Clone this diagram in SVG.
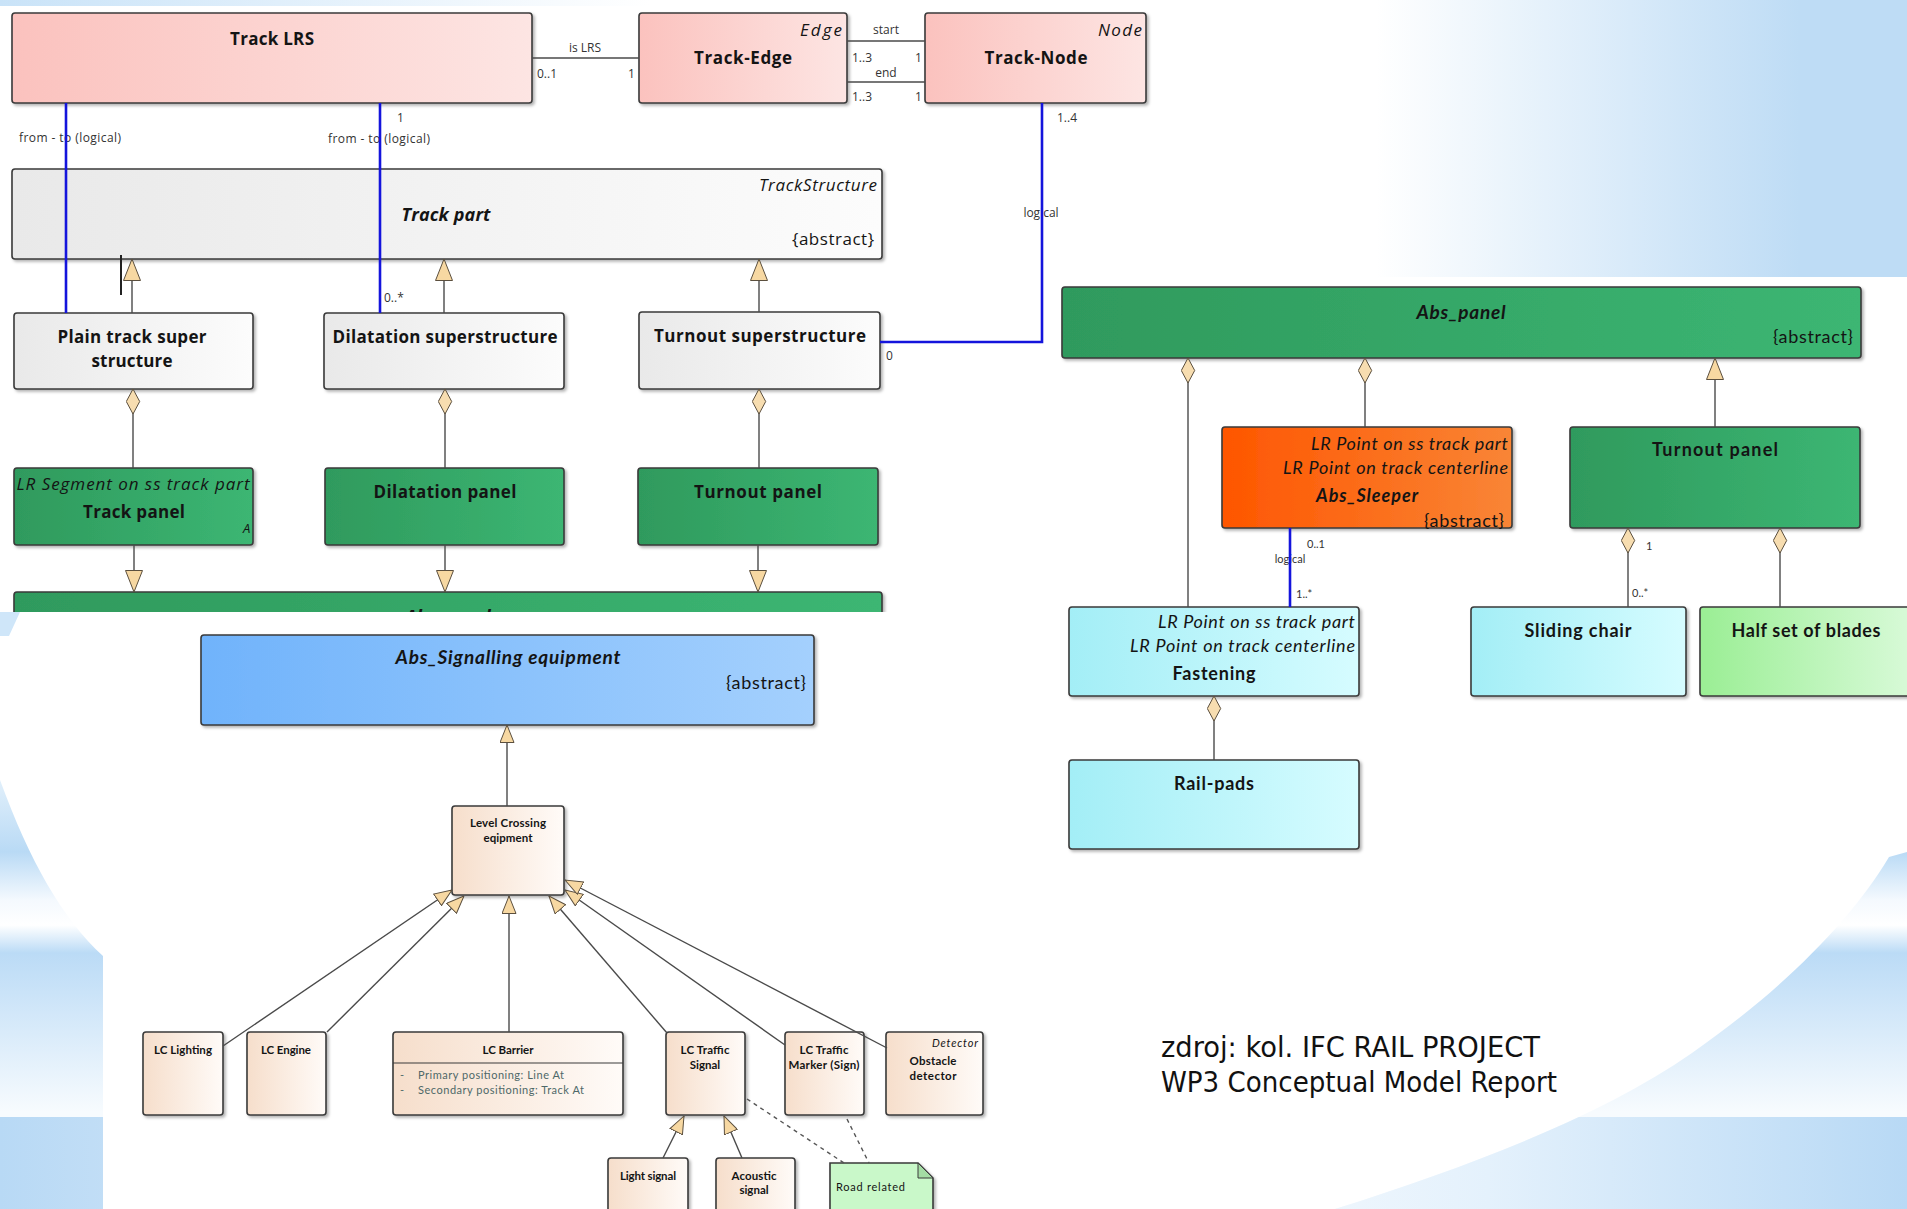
<svg xmlns="http://www.w3.org/2000/svg" width="1907" height="1209" viewBox="0 0 1907 1209">
<defs>
<style>
.box{stroke:#3a3a3a;stroke-width:1.6;filter:url(#sh)}
.ln{stroke:#4a4a4a;stroke-width:1.4;fill:none}
.blue{stroke:#1414dc;stroke-width:2.6;fill:none}
.dash{stroke:#555;stroke-width:1.4;fill:none;stroke-dasharray:4 4}
.o{font-family:'Open Sans','Liberation Sans',sans-serif;fill:#141414}
.l{font-family:Lato,'Liberation Sans',sans-serif;fill:#141414}
.b{font-weight:700}
.i{font-style:italic}
.m{text-anchor:middle}
.e{text-anchor:end}
.s12{font-size:12px;fill:#333}
.s11{font-size:11px;fill:#333}
.t17{font-size:17px}
.t18{font-size:18px}
.t19{font-size:19px}
.tl{font-size:11.5px}
.attr{font-size:11px;fill:#4e6868}
.src{font-family:'DejaVu Sans Condensed','DejaVu Sans','Liberation Sans',sans-serif;font-stretch:condensed;font-size:28px;fill:#111}
</style>
<filter id="sh" x="-5%" y="-5%" width="112%" height="120%">
<feDropShadow dx="2" dy="2" stdDeviation="1.5" flood-color="#000" flood-opacity="0.3"/>
</filter>
<linearGradient id="gPink" x1="0" y1="0" x2="1" y2="0"><stop offset="0" stop-color="#fbc2be"/><stop offset="1" stop-color="#fde5e3"/></linearGradient>
<linearGradient id="gGrey" x1="0" y1="0" x2="1" y2="0"><stop offset="0" stop-color="#e9e9e9"/><stop offset="1" stop-color="#fcfcfc"/></linearGradient>
<linearGradient id="gGreen" x1="0" y1="0" x2="1" y2="0"><stop offset="0" stop-color="#2f9a5d"/><stop offset="1" stop-color="#3cb673"/></linearGradient>
<linearGradient id="gOrange" x1="0" y1="0" x2="1" y2="0"><stop offset="0" stop-color="#fe5600"/><stop offset="1" stop-color="#f98536"/></linearGradient>
<linearGradient id="gCyan" x1="0" y1="0" x2="1" y2="0"><stop offset="0" stop-color="#a3eef6"/><stop offset="1" stop-color="#d6fcff"/></linearGradient>
<linearGradient id="gLGreen" x1="0" y1="0" x2="1" y2="0"><stop offset="0" stop-color="#9aee94"/><stop offset="1" stop-color="#dcfbdc"/></linearGradient>
<linearGradient id="gBlue" x1="0" y1="0" x2="1" y2="0"><stop offset="0" stop-color="#70b3fb"/><stop offset="1" stop-color="#a4d0fd"/></linearGradient>
<linearGradient id="gBeige" x1="0" y1="0" x2="1" y2="0"><stop offset="0" stop-color="#f6decb"/><stop offset="1" stop-color="#fffbf8"/></linearGradient>
<linearGradient id="bgTop" gradientUnits="userSpaceOnUse" x1="0" y1="0" x2="650" y2="0"><stop offset="0" stop-color="#c9e3f8"/><stop offset="1" stop-color="#ffffff"/></linearGradient>
<linearGradient id="bgTR" gradientUnits="userSpaceOnUse" x1="1376" y1="0" x2="1800" y2="0"><stop offset="0" stop-color="#ffffff"/><stop offset="1" stop-color="#bedcf5"/></linearGradient>
<linearGradient id="bgV" gradientUnits="userSpaceOnUse" x1="0" y1="612" x2="0" y2="1117">
<stop offset="0" stop-color="#ffffff"/>
<stop offset="0.33" stop-color="#e2f0fb"/>
<stop offset="0.475" stop-color="#b9daf5"/>
<stop offset="0.57" stop-color="#f4f9fe"/>
<stop offset="0.62" stop-color="#ffffff"/>
<stop offset="0.675" stop-color="#bbdbf6"/>
<stop offset="0.99" stop-color="#f7fbfe"/>
<stop offset="1" stop-color="#f7fbfe"/>
</linearGradient>
<linearGradient id="bgB" gradientUnits="userSpaceOnUse" x1="0" y1="0" x2="1907" y2="0">
<stop offset="0" stop-color="#b8d9f5"/><stop offset="0.06" stop-color="#c2def6"/><stop offset="0.55" stop-color="#ffffff"/><stop offset="0.78" stop-color="#e4f1fc"/><stop offset="1" stop-color="#b8d9f5"/>
</linearGradient>
<clipPath id="clipBar"><rect x="0" y="580" width="900" height="32"/></clipPath>
<clipPath id="clipLow"><rect x="0" y="1117" width="1907" height="92"/></clipPath>
<marker id="genL" markerUnits="userSpaceOnUse" viewBox="0 0 22 18" markerWidth="22" markerHeight="18" refX="22" refY="9" orient="auto">
<path d="M22,9 L0.5,0.5 L0.5,17.5 Z" fill="#f7d8a2" stroke="#5b4f3e" stroke-width="1"/>
</marker>
<marker id="genS" markerUnits="userSpaceOnUse" viewBox="0 0 18 15" markerWidth="18" markerHeight="15" refX="18" refY="7.5" orient="auto">
<path d="M18,7.5 L0.5,0.5 L0.5,14.5 Z" fill="#f7d8a2" stroke="#5b4f3e" stroke-width="1"/>
</marker>
<marker id="dia" markerUnits="userSpaceOnUse" viewBox="0 0 26 15" markerWidth="26" markerHeight="15" refX="0.5" refY="7.5" orient="auto">
<path d="M0.5,7.5 L13,0.8 L25.5,7.5 L13,14.2 Z" fill="#f7ddb0" stroke="#5b4f3e" stroke-width="1"/>
</marker>
</defs>

<!-- background -->
<g id="background">
<rect x="0" y="0" width="1907" height="1209" fill="#ffffff"/>
<rect x="0" y="0" width="700" height="6" fill="url(#bgTop)"/>
<rect x="1147" y="0" width="760" height="277" fill="url(#bgTR)"/>
<polygon points="0,612 20,612 9,636 0,636" fill="#cfe6f9"/>
<path d="M0,780 C30,862 62,918 103,956 L103,1209 L0,1209 Z" fill="url(#bgV)"/>
<path d="M1907,852 L1889,857 C1850,922 1782,990 1692,1053 C1600,1117 1470,1166 1335,1209 L1907,1209 Z" fill="url(#bgV)"/>
<g clip-path="url(#clipLow)">
<path d="M0,780 C30,862 62,918 103,956 L103,1209 L0,1209 Z" fill="url(#bgB)"/>
<path d="M1907,852 L1889,857 C1850,922 1782,990 1692,1053 C1600,1117 1470,1166 1335,1209 L1907,1209 Z" fill="url(#bgB)"/>
</g>
</g>

<!-- nodes: track structure diagram -->
<g id="trackLRS"><rect class="box" x="12" y="13" width="520" height="90" rx="3" fill="url(#gPink)"/>
<text class="o b t17 m" x="272" y="45" textLength="84">Track LRS</text></g>
<g id="trackEdge"><rect class="box" x="639" y="13" width="208" height="90" rx="3" fill="url(#gPink)"/>
<text class="o i t17 e" x="842" y="36" textLength="42">Edge</text>
<text class="o b t17 m" x="743" y="64" textLength="98">Track-Edge</text></g>
<g id="trackNode"><rect class="box" x="925" y="13" width="221" height="90" rx="3" fill="url(#gPink)"/>
<text class="o i t17 e" x="1142" y="36" textLength="44">Node</text>
<text class="o b t17 m" x="1036" y="64" textLength="103">Track-Node</text></g>
<g id="trackPart"><rect class="box" x="12" y="169" width="870" height="90" rx="3" fill="url(#gGrey)"/>
<text class="o i t17 e" x="877" y="191" textLength="118">TrackStructure</text>
<text class="o b i t18 m" x="446" y="221" textLength="89">Track part</text>
<text class="o t17 e" x="874" y="245" textLength="82">{abstract}</text></g>
<g id="plainTrack"><rect class="box" x="14" y="313" width="239" height="76" rx="3" fill="url(#gGrey)"/>
<text class="o b t17 m" x="132" y="343" textLength="149">Plain track super</text>
<text class="o b t17 m" x="132" y="367" textLength="81">structure</text></g>
<g id="dilatationSuper"><rect class="box" x="324" y="313" width="240" height="76" rx="3" fill="url(#gGrey)"/>
<text class="o b t17 m" x="445" y="343" textLength="225">Dilatation superstructure</text></g>
<g id="turnoutSuper"><rect class="box" x="639" y="312" width="241" height="77" rx="3" fill="url(#gGrey)"/>
<text class="o b t17 m" x="760" y="342" textLength="212">Turnout superstructure</text></g>
<g id="trackPanel"><rect class="box" x="14" y="468" width="239" height="77" rx="3" fill="url(#gGreen)"/>
<text class="o i t17 m" x="133" y="490" textLength="233">LR Segment on ss track part</text>
<text class="o b t17 m" x="134" y="518" textLength="102">Track panel</text>
<text class="o i" x="243" y="533" font-size="13" fill="#b83a1c">A</text></g>
<g id="dilatationPanel"><rect class="box" x="325" y="468" width="239" height="77" rx="3" fill="url(#gGreen)"/>
<text class="o b t17 m" x="445" y="498" textLength="143">Dilatation panel</text></g>
<g id="turnoutPanel1"><rect class="box" x="638" y="468" width="240" height="77" rx="3" fill="url(#gGreen)"/>
<text class="o b t17 m" x="758" y="498" textLength="128">Turnout panel</text></g>
<g id="absPanelBar" clip-path="url(#clipBar)"><rect class="box" x="14" y="592" width="868" height="60" rx="3" fill="url(#gGreen)"/>
<text class="o b i t18 m" x="448" y="623">Abs_panel</text></g>

<!-- nodes: panel diagram -->
<g id="absPanel"><rect class="box" x="1062" y="287" width="799" height="71" rx="3" fill="url(#gGreen)"/>
<text class="l b i t19 m" x="1461" y="319" textLength="89">Abs_panel</text>
<text class="l t18 e" x="1853" y="343" textLength="80">{abstract}</text></g>
<g id="absSleeper"><rect class="box" x="1222" y="427" width="290" height="101" rx="3" fill="url(#gOrange)"/>
<text class="l i t18 e" x="1508" y="450" textLength="197">LR Point on ss track part</text>
<text class="l i t18 e" x="1508" y="474" textLength="225">LR Point on track centerline</text>
<text class="l b i t18 m" x="1367" y="502" textLength="102">Abs_Sleeper</text>
<text class="l t18 e" x="1504" y="527" textLength="80">{abstract}</text></g>
<g id="turnoutPanel2"><rect class="box" x="1570" y="427" width="290" height="101" rx="3" fill="url(#gGreen)"/>
<text class="l b t18 m" x="1715" y="456" textLength="126">Turnout panel</text></g>
<g id="fastening"><rect class="box" x="1069" y="607" width="290" height="89" rx="3" fill="url(#gCyan)"/>
<text class="l i t18 e" x="1355" y="628" textLength="197">LR Point on ss track part</text>
<text class="l i t18 e" x="1355" y="652" textLength="225">LR Point on track centerline</text>
<text class="l b t18 m" x="1214" y="680" textLength="83">Fastening</text></g>
<g id="slidingChair"><rect class="box" x="1471" y="607" width="215" height="89" rx="3" fill="url(#gCyan)"/>
<text class="l b t18 m" x="1578" y="637" textLength="107">Sliding chair</text></g>
<g id="halfSet"><rect class="box" x="1700" y="607" width="225" height="89" rx="3" fill="url(#gLGreen)"/>
<text class="l b t18 m" x="1806" y="637" textLength="149">Half set of blades</text></g>
<g id="railPads"><rect class="box" x="1069" y="760" width="290" height="89" rx="3" fill="url(#gCyan)"/>
<text class="l b t18 m" x="1214" y="790" textLength="80">Rail-pads</text></g>

<!-- nodes: signalling diagram -->
<g id="absSignalling"><rect class="box" x="201" y="635" width="613" height="90" rx="3" fill="url(#gBlue)"/>
<text class="l b i t19 m" x="508" y="664" textLength="225">Abs_Signalling equipment</text>
<text class="l t18 e" x="806" y="689" textLength="80">{abstract}</text></g>
<g id="levelCrossing"><rect class="box" x="452" y="806" width="112" height="89" rx="3" fill="url(#gBeige)"/>
<text class="l b tl m" x="508" y="827" textLength="76">Level Crossing</text>
<text class="l b tl m" x="508" y="842" textLength="49">eqipment</text></g>
<g id="lcLighting"><rect class="box" x="143" y="1032" width="80" height="83" rx="3" fill="url(#gBeige)"/>
<text class="l b tl m" x="183" y="1054" textLength="58">LC Lighting</text></g>
<g id="lcEngine"><rect class="box" x="247" y="1032" width="79" height="83" rx="3" fill="url(#gBeige)"/>
<text class="l b tl m" x="286" y="1054" textLength="50">LC Engine</text></g>
<g id="lcBarrier"><rect class="box" x="393" y="1032" width="230" height="83" rx="3" fill="url(#gBeige)"/>
<line x1="393" y1="1063" x2="623" y2="1063" stroke="#3a3a3a" stroke-width="1.2"/>
<text class="l b tl m" x="508" y="1054" textLength="51">LC Barrier</text>
<text class="l attr" x="400" y="1079">-</text>
<text class="l attr" x="418" y="1079" textLength="146">Primary positioning: Line At</text>
<text class="l attr" x="400" y="1094">-</text>
<text class="l attr" x="418" y="1094" textLength="166">Secondary positioning: Track At</text></g>
<g id="lcTrafficSignal"><rect class="box" x="666" y="1032" width="79" height="83" rx="3" fill="url(#gBeige)"/>
<text class="l b tl m" x="705" y="1054" textLength="49">LC Traffic</text>
<text class="l b tl m" x="705" y="1069">Signal</text></g>
<g id="lcTrafficMarker"><rect class="box" x="785" y="1032" width="79" height="83" rx="3" fill="url(#gBeige)"/>
<text class="l b tl m" x="824" y="1054" textLength="49">LC Traffic</text>
<text class="l b tl m" x="824" y="1069" textLength="71">Marker (Sign)</text></g>
<g id="obstacleDetector"><rect class="box" x="886" y="1032" width="97" height="83" rx="3" fill="url(#gBeige)"/>
<text class="l i m" x="955" y="1047" font-size="11" fill="#222" textLength="46">Detector</text>
<text class="l b tl m" x="933" y="1065" textLength="47">Obstacle</text>
<text class="l b tl m" x="933" y="1080" textLength="47">detector</text></g>
<g id="lightSignal"><rect class="box" x="608" y="1158" width="80" height="70" rx="3" fill="url(#gBeige)"/>
<text class="l b tl m" x="648" y="1180" textLength="56">Light signal</text></g>
<g id="acousticSignal"><rect class="box" x="716" y="1158" width="79" height="70" rx="3" fill="url(#gBeige)"/>
<text class="l b tl m" x="754" y="1180" textLength="45">Acoustic</text>
<text class="l b tl m" x="754" y="1194">signal</text></g>
<g id="roadRelated"><path class="box" d="M830,1163 L918,1163 L933,1178 L933,1230 L830,1230 Z" fill="#c9f8c9"/>
<path d="M918,1163 L918,1178 L933,1178 Z" fill="#a4dca4" stroke="#3a3a3a" stroke-width="1"/>
<text class="l" x="836" y="1191" font-size="11" fill="#2a2a2a" textLength="69">Road related</text></g>

<g id="source">
<text class="src" x="1161" y="1057" textLength="379" lengthAdjust="spacingAndGlyphs">zdroj: kol. IFC RAIL PROJECT</text>
<text class="src" x="1161" y="1092" textLength="396" lengthAdjust="spacingAndGlyphs">WP3 Conceptual Model Report</text>
</g>

<!-- connectors -->
<g id="connectors">
<text class="o s12" x="19" y="142" textLength="102">from - to (logical)</text>
<text class="o s12" x="328" y="143" textLength="102">from - to (logical)</text>
<text class="o s12" x="397" y="122">1</text>
<text class="o s12" x="384" y="302">0..*</text>
<text class="o s12" x="1057" y="122">1..4</text>
<text class="o s12 m" x="1041" y="217">logical</text>
<text class="o s12" x="886" y="360">0</text>
<text class="o s12 m" x="585" y="52">is LRS</text>
<text class="o s12" x="537" y="78">0..1</text>
<text class="o s12" x="628" y="78">1</text>
<text class="o s12 m" x="886" y="34">start</text>
<text class="o s12" x="852" y="62">1..3</text>
<text class="o s12" x="915" y="62">1</text>
<text class="o s12 m" x="886" y="77">end</text>
<text class="o s12" x="852" y="101">1..3</text>
<text class="o s12" x="915" y="101">1</text>
<text class="l s11" x="1307" y="548">0..1</text>
<text class="l s11 m" x="1290" y="563">logical</text>
<text class="l s11" x="1296" y="598">1..*</text>
<text class="l s11" x="1646" y="550">1</text>
<text class="l s11" x="1632" y="597">0..*</text>

<line class="ln" x1="532" y1="58" x2="639" y2="58"/>
<line class="ln" x1="847" y1="41" x2="925" y2="41"/>
<line class="ln" x1="847" y1="82" x2="925" y2="82"/>
<line class="blue" x1="66" y1="103" x2="66" y2="313"/>
<line class="blue" x1="380" y1="103" x2="380" y2="313"/>
<polyline class="blue" points="1042,103 1042,342 880,342"/>
<line class="blue" x1="1290" y1="528" x2="1290" y2="607"/>

<line class="ln" x1="132" y1="313" x2="132" y2="259" marker-end="url(#genL)"/>
<line x1="121" y1="255" x2="121" y2="295" stroke="#222" stroke-width="2"/>
<line class="ln" x1="444" y1="313" x2="444" y2="259" marker-end="url(#genL)"/>
<line class="ln" x1="759" y1="312" x2="759" y2="259" marker-end="url(#genL)"/>
<line class="ln" x1="133" y1="389" x2="133" y2="468" marker-start="url(#dia)"/>
<line class="ln" x1="445" y1="389" x2="445" y2="468" marker-start="url(#dia)"/>
<line class="ln" x1="759" y1="389" x2="759" y2="468" marker-start="url(#dia)"/>
<line class="ln" x1="134" y1="545" x2="134" y2="592" marker-end="url(#genL)"/>
<line class="ln" x1="445" y1="545" x2="445" y2="592" marker-end="url(#genL)"/>
<line class="ln" x1="758" y1="545" x2="758" y2="592" marker-end="url(#genL)"/>

<line class="ln" x1="1188" y1="358" x2="1188" y2="607" marker-start="url(#dia)"/>
<line class="ln" x1="1365" y1="358" x2="1365" y2="427" marker-start="url(#dia)"/>
<line class="ln" x1="1715" y1="427" x2="1715" y2="358" marker-end="url(#genL)"/>
<line class="ln" x1="1628" y1="528" x2="1628" y2="607" marker-start="url(#dia)"/>
<line class="ln" x1="1780" y1="528" x2="1780" y2="607" marker-start="url(#dia)"/>
<line class="ln" x1="1214" y1="696" x2="1214" y2="760" marker-start="url(#dia)"/>

<line class="ln" x1="507" y1="806" x2="507" y2="725" marker-end="url(#genS)"/>
<line class="ln" x1="223" y1="1046" x2="452" y2="890" marker-end="url(#genS)"/>
<line class="ln" x1="327" y1="1032" x2="464" y2="896" marker-end="url(#genS)"/>
<line class="ln" x1="509" y1="1032" x2="509" y2="896" marker-end="url(#genS)"/>
<line class="ln" x1="667" y1="1033" x2="549" y2="896" marker-end="url(#genS)"/>
<line class="ln" x1="785" y1="1045" x2="565" y2="890" marker-end="url(#genS)"/>
<line class="ln" x1="887" y1="1048" x2="565" y2="880" marker-end="url(#genS)"/>
<line class="ln" x1="663" y1="1158" x2="684" y2="1116" marker-end="url(#genS)"/>
<line class="ln" x1="742" y1="1158" x2="724" y2="1116" marker-end="url(#genS)"/>
<line class="dash" x1="747" y1="1099" x2="844" y2="1163"/>
<line class="dash" x1="847" y1="1119" x2="869" y2="1163"/>
</g>
</svg>
